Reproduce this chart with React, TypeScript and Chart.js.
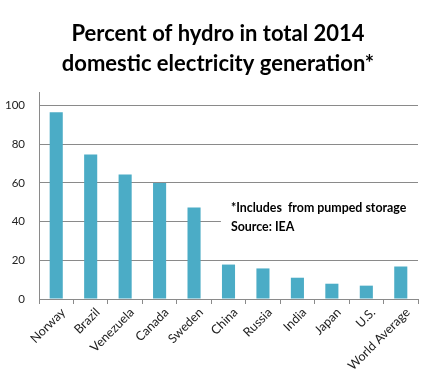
import React, { useEffect, useRef } from "react";
import { Chart, registerables } from "chart.js";

Chart.register(...registerables);

const CATEGORIES = ["Norway", "Brazil", "Venezuela", "Canada", "Sweden", "China", "Russia", "India", "Japan", "U.S.", "World Average"];
const HYDRO_SHARE = [96.5, 74.7, 64.4, 59.9, 47.3, 17.8, 15.8, 11.0, 7.9, 6.9, 16.8];
const TITLE_LINES = ["Percent of hydro in total 2014", "domestic electricity generation*"];
const NOTE_LINES = ["*Includes  from pumped storage", "Source: IEA"];
const Y_TICKS_MAX = 100;

const FONT = "Lato, 'Open Sans', sans-serif";
const GRID = "#8a8a8a";

const overlayPlugin = {
  id: "overlay",
  afterDraw(chart: any) {
    const { ctx, chartArea, width } = chart;
    const y = chart.scales.y;
    const x = chart.scales.x;
    ctx.save();
    // Title
    ctx.fillStyle = "#000";
    ctx.font = `bold 22px ${FONT}`;
    ctx.textAlign = "center";
    ctx.textBaseline = "middle";
    ctx.fillText(TITLE_LINES[0], width / 2 + 2, 34);
    ctx.fillText(TITLE_LINES[1], width / 2 + 2, 64);
    // Note box
    const boxLeft = x.getPixelForValue(4.78);
    const boxTop = y.getPixelForValue(54);
    const boxBottom = y.getPixelForValue(31);
    ctx.fillStyle = "#fff";
    ctx.fillRect(boxLeft, boxTop, chartArea.right - boxLeft + 2, boxBottom - boxTop);
    ctx.fillStyle = "#000";
    ctx.font = `bold 12.4px ${FONT}`;
    ctx.textAlign = "left";
    const tx = x.getPixelForValue(5.07);
    ctx.fillText(NOTE_LINES[0], tx, y.getPixelForValue(47));
    ctx.fillText(NOTE_LINES[1], tx, y.getPixelForValue(37.3));
    ctx.restore();
  },
};

export default function App() {
  const ref = useRef<HTMLCanvasElement>(null);
  useEffect(() => {
    const chart = new Chart(ref.current!, {
      type: "bar",
      data: {
        labels: CATEGORIES,
        datasets: [
          {
            data: HYDRO_SHARE,
            backgroundColor: "#4bacc6",
            barPercentage: 0.38,
            categoryPercentage: 1,
          },
        ],
      },
      options: {
        responsive: false,
        animation: false,
        layout: { padding: { top: 92, left: 0, right: 14, bottom: 0 } },
        plugins: { legend: { display: false }, tooltip: { enabled: false }, title: { display: false } },
        scales: {
          x: {
            grid: { offset: true, drawOnChartArea: false, color: GRID, tickLength: 5 },
            border: { color: GRID },
            ticks: {
              minRotation: 45,
              maxRotation: 45,
              color: "#222",
              font: { family: FONT, size: 12.5 },
              padding: 1,
              labelOffset: 7,
            },
            afterFit(scale: any) {
              scale.height = 86;
            },
          },
          y: {
            min: 0,
            max: 107,
            ticks: { stepSize: 20, color: "#222", font: { family: FONT, size: 11.5 }, padding: 14 },
            grid: { color: GRID, drawTicks: false },
            border: { color: GRID },
            afterBuildTicks(scale: any) {
              scale.ticks = scale.ticks.filter((t: any) => t.value <= Y_TICKS_MAX);
            },
            afterFit(scale: any) {
              scale.width = 39;
            },
          },
        },
      },
      plugins: [overlayPlugin],
    });
    return () => chart.destroy();
  }, []);
  return (
    <div style={{ position: "fixed", left: 0, top: 0, width: 432, height: 385, background: "#fff" }}>
      <canvas ref={ref} width={432} height={385} />
    </div>
  );
}
